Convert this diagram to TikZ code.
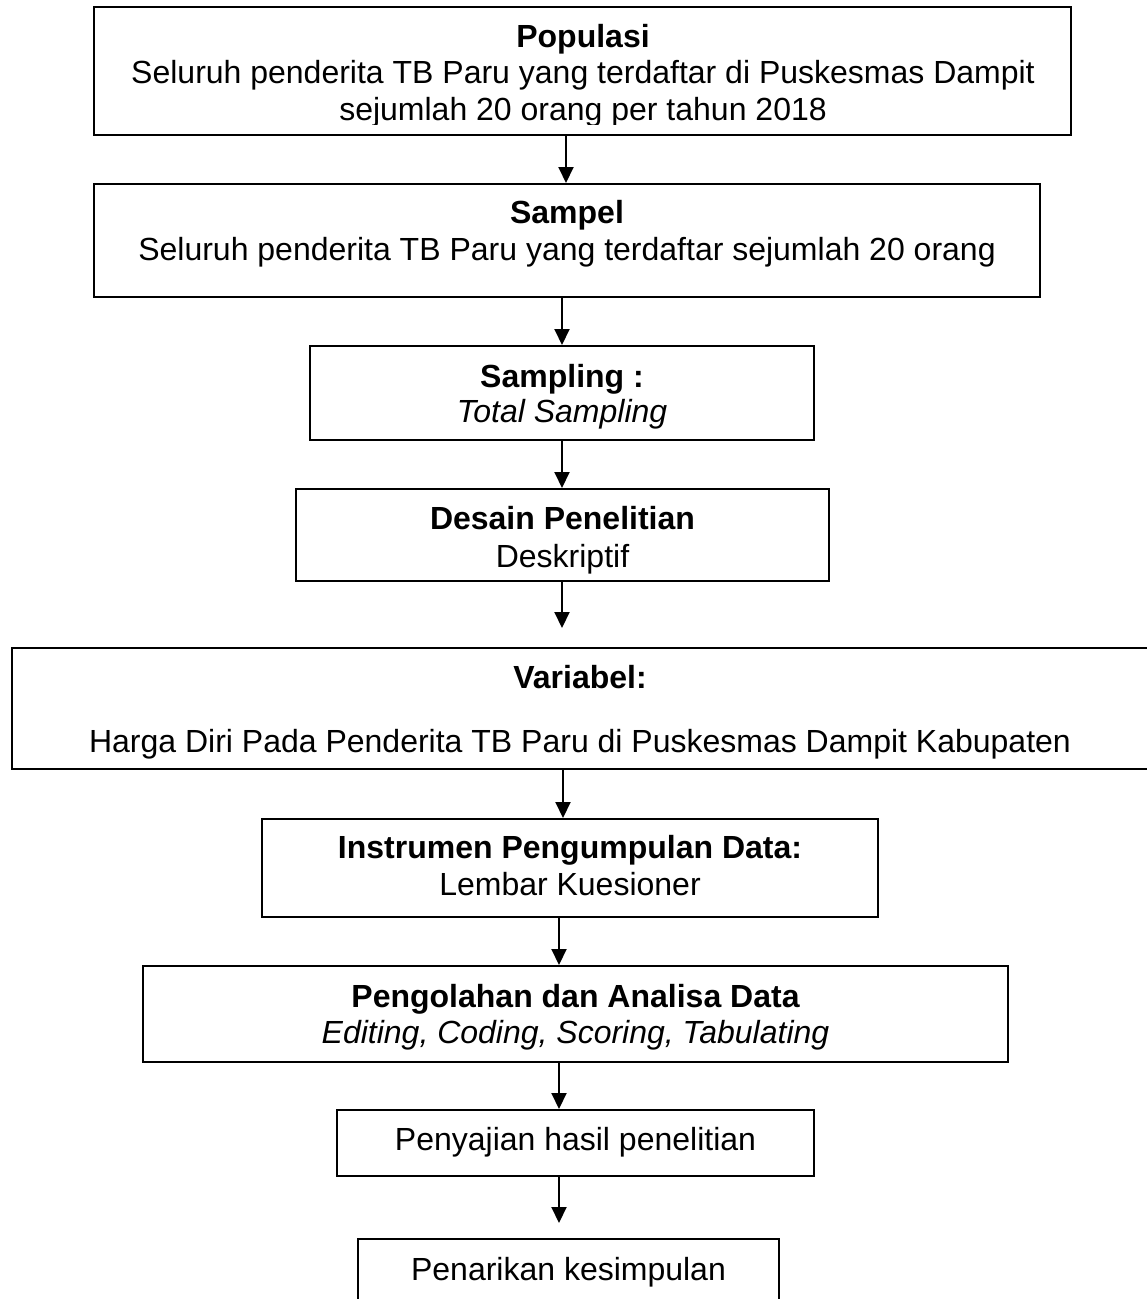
\documentclass[tikz,border=0pt]{standalone}
\usepackage{fontspec}
\setmainfont{Liberation Sans}
\usetikzlibrary{fit,arrows.meta}
\begin{document}
\begin{tikzpicture}[x=1pt,y=-1pt,
  box/.style={draw=black,line width=2pt,inner sep=0pt},
  txt/.style={anchor=base,inner sep=0pt,font=\fontsize{32}{37}\selectfont},
  arr/.style={line width=2pt,-{Triangle[width=15pt,length=16pt]}}]
\useasboundingbox (0,0) rectangle (1147,1299);
\fill[white] (0,0) rectangle (1147,1299);
% boxes
\node[box, fit={(94,7)(1071,135)}] (b1) {};
\node[box, fit={(94,184)(1040,297)}] (b2) {};
\node[box, fit={(310,346)(814,440)}] (b3) {};
\node[box, fit={(296,489)(829,581)}] (b4) {};
\node[box, fit={(12,648)(1155,769)}] (b5) {};
\node[box, fit={(262,819)(878,917)}] (b6) {};
\node[box, fit={(143,966)(1008,1062)}] (b7) {};
\node[box, fit={(337,1110)(814,1176)}] (b8) {};
\node[box, fit={(358,1239)(779,1310)}] (b9) {};
% texts
\node[txt] (t1a) at (583,47) {\bfseries Populasi};
\node[txt] (t1b) at (583,83) {Seluruh penderita TB Paru yang terdaftar di Puskesmas Dampit};
\begin{scope}
\clip (94,90) rectangle (1071,124);
\node[txt] (t1c) at (583,120) {sejumlah 20 orang per tahun 2018};
\end{scope}
\node[txt] (t2a) at (567,223) {\bfseries Sampel};
\node[txt] (t2b) at (567,260) {Seluruh penderita TB Paru yang terdaftar sejumlah 20 orang};
\node[txt] (t3a) at (562,387) {\bfseries Sampling :};
\node[txt] (t3b) at (562,422) {\itshape Total Sampling};
\node[txt] (t4a) at (562.5,529) {\bfseries Desain Penelitian};
\node[txt] (t4b) at (562.5,567) {Deskriptif};
\node[txt] (t5a) at (580,688) {\bfseries Variabel:};
\node[txt] (t5b) at (580,752) {Harga Diri Pada Penderita TB Paru di Puskesmas Dampit Kabupaten};
\node[txt] (t6a) at (570,858) {\bfseries Instrumen Pengumpulan Data:};
\node[txt] (t6b) at (570,895) {Lembar Kuesioner};
\node[txt] (t7a) at (575.5,1007) {\bfseries Pengolahan dan Analisa Data};
\node[txt] (t7b) at (575.5,1043) {\itshape Editing, Coding, Scoring, Tabulating};
\node[txt] (t8) at (575.5,1150) {Penyajian hasil penelitian};
\node[txt] (t9) at (568.5,1280) {Penarikan kesimpulan};
% arrow columns
\coordinate (x1) at (566,0);
\coordinate (x2) at (562,0);
\coordinate (x3) at (563,0);
\coordinate (x4) at (559,0);
% arrows
\draw[arr] (x1 |- b1.south) -- (x1 |- b2.north);
\draw[arr] (x2 |- b2.south) -- (x2 |- b3.north);
\draw[arr] (x2 |- b3.south) -- (x2 |- b4.north);
\draw[arr, shorten >=19pt] (x2 |- b4.south) -- (x2 |- b5.north);
\draw[arr] (x3 |- b5.south) -- (x3 |- b6.north);
\draw[arr] (x4 |- b6.south) -- (x4 |- b7.north);
\draw[arr] (x4 |- b7.south) -- (x4 |- b8.north);
\draw[arr, shorten >=15pt] (x4 |- b8.south) -- (x4 |- b9.north);
\end{tikzpicture}
\end{document}
